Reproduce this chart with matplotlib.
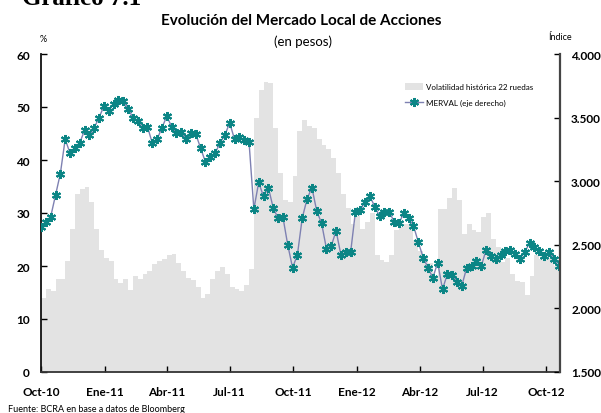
import matplotlib
matplotlib.use('Agg')
import matplotlib.pyplot as plt
import matplotlib.ticker as mticker
import pandas as pd

# ========== DATOS (semanales) ==========
START = '2010-10-01'

# Volatilidad histórica 22 ruedas (%)
volatilidad = [
    14.0, 15.6, 15.3, 17.5, 17.5, 21.0, 27.0, 33.5, 34.5, 35.0,
    32.0, 27.0, 23.0, 21.5, 21.0, 17.5, 16.8, 17.5, 15.5, 18.2,
    17.5, 18.5, 19.0, 20.4, 21.0, 21.3, 22.0, 22.3, 20.5, 19.0,
    17.8, 17.3, 16.0, 14.0, 14.8, 17.5, 19.0, 19.8, 18.5, 16.0,
    15.6, 15.3, 16.5, 19.5, 48.0, 53.2, 54.8, 54.5, 46.0, 37.5,
    32.5, 32.0, 37.0, 45.5, 47.5, 46.5, 46.0, 44.0, 42.8, 42.0,
    40.3, 37.5, 33.5, 31.0, 28.0, 29.5, 27.0, 28.3, 30.0, 22.0,
    21.2, 20.7, 22.0, 26.7, 27.3, 28.0, 28.0, 25.0, 22.8, 21.5,
    20.5, 18.2, 30.8, 30.8, 32.8, 34.8, 32.5, 26.0, 28.0, 26.8,
    26.4, 29.3, 30.0, 25.1, 23.5, 20.8, 21.5, 18.5, 17.2, 16.9,
    14.5, 18.2, 22.0, 21.4, 22.5, 21.5, 20.0, 19.4,
]

# MERVAL (eje derecho)
merval = [
    2640, 2680, 2720, 2890, 3060, 3330, 3220, 3260, 3300, 3400,
    3360, 3420, 3500, 3590, 3550, 3610, 3640, 3630, 3570, 3500,
    3470, 3420, 3430, 3300, 3330, 3420, 3510, 3430, 3380, 3390,
    3330, 3380, 3370, 3260, 3150, 3190, 3220, 3300, 3360, 3460,
    3330, 3350, 3320, 3310, 2780, 2990, 2880, 2950, 2790, 2710,
    2720, 2500, 2320, 2420, 2710, 2860, 2950, 2765, 2670, 2470,
    2490, 2610, 2420, 2440, 2440, 2760, 2770, 2840, 2880, 2800,
    2726, 2760, 2760, 2680, 2670, 2750, 2710, 2650, 2520, 2400,
    2320, 2240, 2360, 2150, 2270, 2260, 2205, 2180, 2320, 2330,
    2370, 2330, 2460, 2410, 2386, 2420, 2451, 2460, 2425, 2390,
    2440, 2516, 2480, 2450, 2410, 2440, 2390, 2330,
]

tick_dates = ['2010-10-01', '2011-01-01', '2011-04-01', '2011-07-01', '2011-10-01',
              '2012-01-01', '2012-04-01', '2012-07-01', '2012-10-01']
tick_labels = ['Oct-10', 'Ene-11', 'Abr-11', 'Jul-11', 'Oct-11',
               'Ene-12', 'Abr-12', 'Jul-12', 'Oct-12']

fechas = pd.date_range(START, periods=len(merval), freq='7D')

FONT = 'Lato'
plt.rcParams['font.family'] = [FONT, 'DejaVu Sans']

fig = plt.figure(figsize=(6.01, 4.14), dpi=100)
ax = fig.add_axes([41 / 601, 1 - 373 / 414, (560 - 41) / 601, (373 - 55) / 414])
ax2 = ax.twinx()

# barras de volatilidad
bars = ax.bar(fechas, volatilidad, width=7, align='edge', color='#e3e3e3',
              linewidth=0, label='Volatilidad histórica 22 ruedas')
ax.set_ylim(0, 60)
ax.set_yticks(range(0, 61, 10))
ax.set_xlim(pd.Timestamp(START), fechas[-1] + pd.Timedelta(days=2))

# linea MERVAL
line, = ax2.plot(fechas, merval, color='#7e81b2', lw=1.0,
                 marker=(6, 2, 0), ms=6.5, mec='#0b8585', mfc='#0b8585', mew=1.5,
                 label='MERVAL (eje derecho)')
ax2.set_ylim(1500, 4000)
ax2.set_yticks(range(1500, 4001, 500))
ax2.yaxis.set_major_formatter(mticker.FuncFormatter(lambda v, p: f'{int(v):,}'.replace(',', '.')))

ax.set_xticks(pd.to_datetime(tick_dates))
ax.set_xticklabels(tick_labels)

for a in (ax, ax2):
    a.spines['top'].set_visible(False)
ax.spines['left'].set_linewidth(1.3)
ax.spines['left'].set_color('#111111')
ax2.spines['right'].set_linewidth(1.6)
ax2.spines['right'].set_color('#444444')
ax.spines['bottom'].set_linewidth(1.3)
ax.spines['bottom'].set_color('#333333')
ax2.spines['left'].set_visible(False)
ax2.spines['bottom'].set_visible(False)
ax.spines['right'].set_visible(False)

ax.tick_params(axis='y', direction='in', length=4, width=1, pad=8, labelsize=8.5)
ax2.tick_params(axis='y', direction='in', length=4, width=1, pad=8, labelsize=8.5)
ax.tick_params(axis='x', direction='in', length=4, width=1, pad=10, labelsize=8.5)
for lbl in ax.get_yticklabels() + ax2.get_yticklabels() + ax.get_xticklabels():
    lbl.set_fontweight('bold')

# textos
fig.text(22 / 601, 1 - 5 / 414, 'Gráfico 7.1', family='Liberation Serif',
         fontweight='bold', fontsize=18, va='baseline', ha='left')
fig.text(301 / 601, 1 - 21 / 414, 'Evolución del Mercado Local de Acciones',
         fontweight='bold', fontsize=11, ha='center', va='center')
fig.text(303 / 601, 1 - 42 / 414, '(en pesos)', fontsize=9.5, ha='center', va='center')
fig.text(43 / 601, 1 - 39 / 414, '%', fontsize=6.5, ha='center', va='center')
fig.text(560 / 601, 1 - 38 / 414, 'Índice', fontsize=6.5, ha='center', va='center')
fig.text(8 / 601, 1 - 410 / 414, 'Fuente: BCRA en base a datos de Bloomberg',
         fontsize=6.5, ha='left', va='center')

ax2.legend([bars, line], ['Volatilidad histórica 22 ruedas', 'MERVAL (eje derecho)'],
           loc='upper left', bbox_to_anchor=(402 / 601, 1 - 81 / 414),
           bbox_transform=fig.transFigure, frameon=False, fontsize=5.8,
           handlelength=2.2, handleheight=0.9, labelspacing=1.1, handletextpad=0.4,
           borderaxespad=0)

fig.savefig('out.png', dpi=100)
